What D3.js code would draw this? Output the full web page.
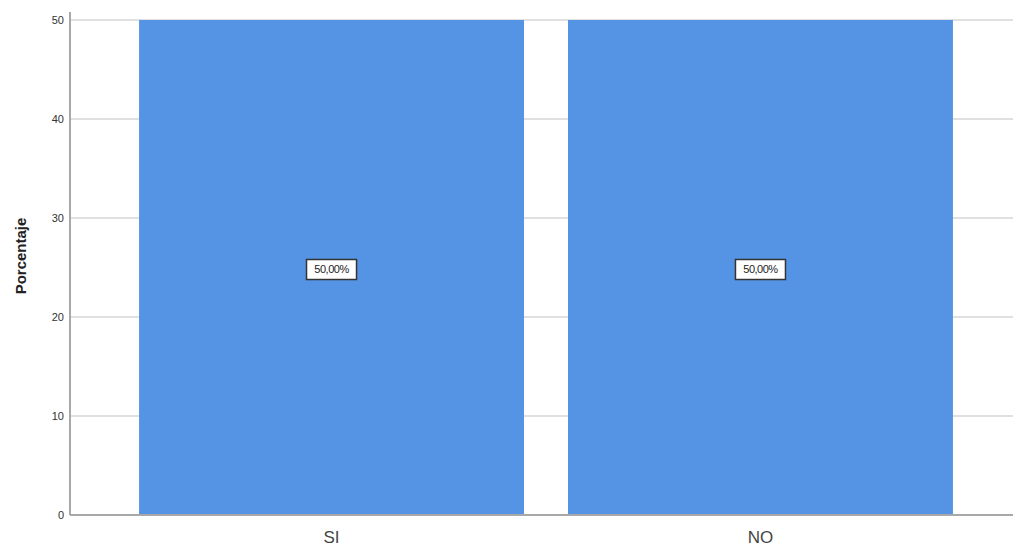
<!DOCTYPE html>
<html>
<head>
<meta charset="utf-8">
<script src="https://cdn.jsdelivr.net/npm/d3@7"></script>
<style>
  body { margin: 0; background: #fff; }
  text { font-family: "Liberation Sans", Arial, sans-serif; }
</style>
</head>
<body>
<svg id="chart" width="1013" height="546"></svg>
<script>
// datos
const categories = ["SI", "NO"];
const percentages = [50, 50];
const barLabels = ["50,00%", "50,00%"];
const yTicks = [0, 10, 20, 30, 40, 50];

const svg = d3.select("#chart");
const mLeft = 70, mTop = 20, mBottom = 515;

const x = d3.scaleBand().domain(categories).range([mLeft, 1022])
  .paddingInner(0.1026).paddingOuter(0.161);
const y = d3.scaleLinear().domain([0, 50]).range([mBottom, mTop]);

// grilla
svg.append("g").selectAll("line").data(yTicks.filter(d => d > 0)).join("line")
  .attr("x1", mLeft).attr("x2", 1013)
  .attr("y1", d => y(d)).attr("y2", d => y(d))
  .attr("stroke", "#e0e0e0").attr("stroke-width", 2);

// barras
svg.append("g").selectAll("rect").data(categories).join("rect")
  .attr("x", d => x(d)).attr("width", x.bandwidth())
  .attr("y", (d, i) => y(percentages[i]))
  .attr("height", (d, i) => y(0) - y(percentages[i]))
  .attr("fill", "#5594e4");

// ejes
svg.append("line").attr("x1", mLeft).attr("x2", mLeft).attr("y1", mTop - 8).attr("y2", mBottom)
  .attr("stroke", "#a8a8a8").attr("stroke-width", 2);
svg.append("line").attr("x1", mLeft).attr("x2", 1013).attr("y1", mBottom).attr("y2", mBottom)
  .attr("stroke", "#a8a8a8").attr("stroke-width", 2);

svg.append("g").selectAll("text").data(yTicks).join("text")
  .attr("x", mLeft - 6).attr("y", d => y(d)).attr("dy", "0.35em")
  .attr("text-anchor", "end").attr("font-size", 11).attr("fill", "#333")
  .text(d => d);

svg.append("g").selectAll("text").data(categories).join("text")
  .attr("x", d => x(d) + x.bandwidth() / 2).attr("y", 537).attr("dy", "0.35em")
  .attr("text-anchor", "middle").attr("font-size", 17).attr("fill", "#444")
  .text(d => d);

svg.append("text")
  .attr("transform", "translate(21,256) rotate(-90)")
  .attr("text-anchor", "middle").attr("dy", "0.35em")
  .attr("font-size", 15).attr("font-weight", "bold").attr("fill", "#222")
  .text("Porcentaje");

// etiquetas de valor
const lab = svg.append("g").selectAll("g").data(categories).join("g")
  .attr("transform", (d, i) => `translate(${x(d) + x.bandwidth() / 2},${y(percentages[i] / 2) + 2})`);
lab.append("rect").attr("x", -25).attr("y", -10).attr("width", 50).attr("height", 20)
  .attr("fill", "#fff").attr("stroke", "#333").attr("stroke-width", 1.5);
lab.append("text").attr("text-anchor", "middle").attr("dy", "0.35em")
  .attr("font-size", 11).attr("fill", "#222").attr("letter-spacing", -0.5)
  .text((d, i) => barLabels[i]);
</script>
</body>
</html>
